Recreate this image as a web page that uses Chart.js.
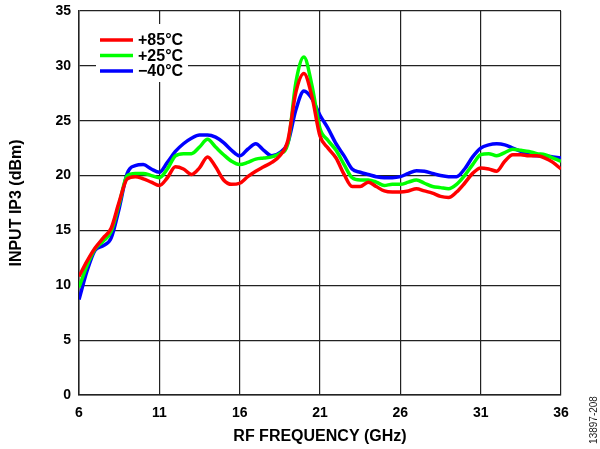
<!DOCTYPE html>
<html>
<head>
<meta charset="utf-8">
<script src="https://cdn.jsdelivr.net/npm/chart.js@4.4.1/dist/chart.umd.min.js"></script>
<style>
  html, body { margin: 0; padding: 0; background: #fff; }
  #wrap { position: relative; width: 600px; height: 449px; }
  #note { position: absolute; left: 586px; top: 395px; width: 14px; height: 50px;
          font: 10px "Liberation Sans", Arial, sans-serif; color: #222; }
  #note span { position: absolute; left: 50%; top: 50%; white-space: nowrap;
               transform: translate(-50%, -50%) rotate(-90deg); }
</style>
</head>
<body>
<div id="wrap">
  <canvas id="c" width="600" height="449"></canvas>
  <div id="note"><span>13897-208</span></div>
</div>
<script>
// input IP3 vs RF frequency, three temperatures
const freqGHz = [6, 6.5, 7, 7.5, 8, 8.5, 9, 9.5, 10, 10.5, 11, 11.5, 12, 12.5, 13, 13.5, 14, 14.5, 15, 15.5,
  16, 16.5, 17, 17.5, 18, 18.5, 19, 19.5, 20, 20.5, 21, 21.5, 22, 22.5, 23, 23.5, 24, 24.5, 25, 25.5,
  26, 26.5, 27, 27.5, 28, 28.5, 29, 29.5, 30, 30.5, 31, 31.5, 32, 32.5, 33, 33.5, 34, 34.5, 35, 35.5, 36];

const ip3Hot = [10.8, 12.2, 13.4, 14.3, 15.2, 17.6, 19.7, 19.9, 19.7, 19.4, 19.1, 19.8, 20.8, 20.6, 20.1, 20.7, 21.7, 20.8, 19.6, 19.2,
  19.3, 19.9, 20.4, 20.8, 21.2, 21.8, 23.2, 27.6, 29.3, 27.2, 23.6, 22.5, 21.6, 20.1, 19.0, 19.0, 19.4, 19.0, 18.6, 18.5,
  18.5, 18.6, 18.8, 18.6, 18.4, 18.1, 18.0, 18.5, 19.3, 20.2, 20.7, 20.6, 20.4, 21.3, 21.9, 21.9, 21.8, 21.8, 21.6, 21.2, 20.6];

const ip3Room = [9.8, 11.8, 13.3, 14.0, 14.9, 17.4, 20.0, 20.2, 20.2, 20.0, 19.8, 20.6, 21.8, 22.0, 22.0, 22.6, 23.3, 22.6, 21.9, 21.3,
  21.0, 21.2, 21.5, 21.6, 21.7, 22.0, 22.9, 28.5, 30.8, 28.2, 24.3, 23.2, 22.3, 21.0, 19.8, 19.6, 19.6, 19.4, 19.1, 19.2,
  19.2, 19.4, 19.6, 19.3, 19.0, 18.9, 18.8, 19.2, 20.0, 21.0, 21.9, 22.0, 21.8, 22.1, 22.4, 22.3, 22.2, 22.0, 21.9, 21.6, 21.3];

const ip3Cold = [8.7, 11.3, 13.2, 13.6, 14.3, 17.0, 20.2, 20.9, 21.0, 20.6, 20.3, 21.2, 22.2, 22.9, 23.4, 23.7, 23.7, 23.5, 23.0, 22.3,
  21.8, 22.4, 22.9, 22.3, 21.8, 22.1, 23.0, 26.0, 27.7, 27.0, 25.5, 24.3, 22.9, 21.8, 20.6, 20.3, 20.1, 19.9, 19.8, 19.8,
  19.9, 20.2, 20.45, 20.4, 20.2, 20.0, 19.9, 19.9, 20.6, 21.7, 22.5, 22.8, 22.9, 22.8, 22.5, 22.2, 21.9, 21.8, 21.8, 21.7, 21.6];

const seriesLabels = ['+85°C', '+25°C', '\u221240°C'];
const seriesColors = ['#ff0000', '#00ff00', '#0000ff'];
const xTicks = [6, 11, 16, 21, 26, 31, 36];
const yTicks = [0, 5, 10, 15, 20, 25, 30, 35];

const FONT = '"Liberation Sans", Arial, sans-serif';

function pts(ys){ return freqGHz.map((f,i)=>({x:f, y:ys[i]})); }

const datasets = [ip3Hot, ip3Room, ip3Cold].map((ys,i)=>({
  label: seriesLabels[i],
  data: pts(ys),
  borderColor: seriesColors[i],
  borderWidth: 3.5,
  pointRadius: 0,
  fill: false,
  cubicInterpolationMode: 'monotone'
}));

// legend drawn inside the plot, with a white box over the grid
const boxLegend = {
  id: 'boxLegend',
  afterDatasetsDraw(chart){
    const ctx = chart.ctx;
    ctx.save();
    ctx.fillStyle = '#fff';
    ctx.fillRect(96, 24, 92, 58);
    chart.data.datasets.forEach((ds,i)=>{
      const y = 40 + i*15.5;
      ctx.strokeStyle = ds.borderColor;
      ctx.lineWidth = 3.5;
      ctx.beginPath(); ctx.moveTo(100, y); ctx.lineTo(133, y); ctx.stroke();
      ctx.fillStyle = '#000';
      ctx.font = 'bold 16px ' + FONT;
      ctx.textBaseline = 'middle';
      ctx.fillText(ds.label, 138, y + 1);
    });
    ctx.restore();
  }
};

new Chart(document.getElementById('c'), {
  type: 'line',
  data: { datasets },
  plugins: [boxLegend],
  options: {
    responsive: false,
    animation: false,
    layout: { padding: { left: 0, right: 39, top: 11, bottom: 0 } },
    plugins: { legend: { display: false }, tooltip: { enabled: false } },
    scales: {
      x: {
        type: 'linear', min: 6, max: 36,
        afterBuildTicks: s => { s.ticks = xTicks.map(v=>({value:v})); },
        afterFit: s => { s.height = 54; s.paddingLeft = 0; s.paddingRight = 0; },
        grid: { color: '#222', lineWidth: 1.2, drawTicks: false },
        border: { color: '#222', width: 1.5 },
        ticks: { color: '#000', padding: 10, maxRotation: 0, font: { family: FONT, size: 14, weight: 'bold' } },
        title: { display: true, text: 'RF FREQUENCY (GHz)', color: '#000', padding: { top: 0, bottom: 3 },
                 font: { family: FONT, size: 16, weight: 'bold' } }
      },
      y: {
        min: 0, max: 35,
        afterBuildTicks: s => { s.ticks = yTicks.map(v=>({value:v})); },
        afterFit: s => { s.width = 79; s.paddingTop = 0; s.paddingBottom = 0; },
        grid: { color: '#222', lineWidth: 1.2, drawTicks: false },
        border: { color: '#222', width: 1.5 },
        ticks: { color: '#000', padding: 8, font: { family: FONT, size: 14, weight: 'bold' } },
        title: { display: true, text: 'INPUT IP3 (dBm)', color: '#000', padding: { top: 7, bottom: 0 },
                 font: { family: FONT, size: 16, weight: 'bold' } }
      }
    }
  }
});
</script>
</body>
</html>
